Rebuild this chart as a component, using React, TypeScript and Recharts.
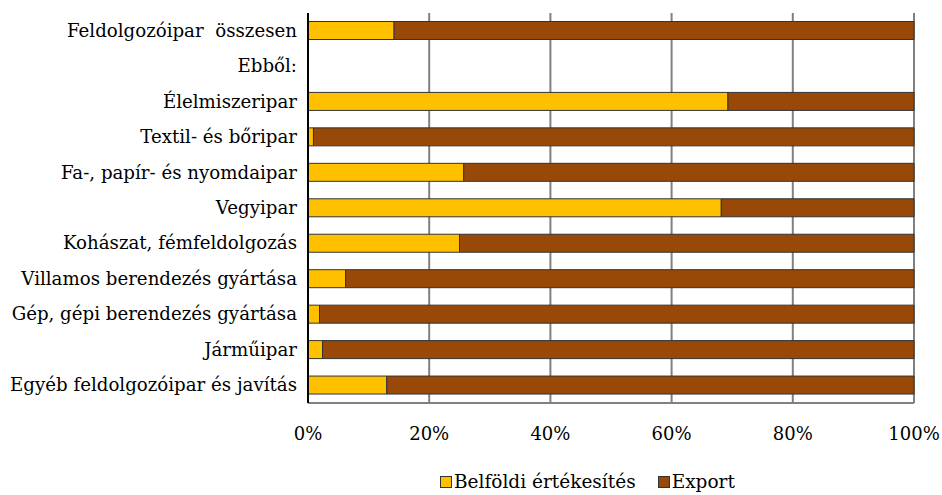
import { Bar, BarChart, CartesianGrid, Legend, XAxis, YAxis } from 'recharts';

const categories = [
  'Feldolgozóipar  összesen',
  'Ebből:',
  'Élelmiszeripar',
  'Textil- és bőripar',
  'Fa-, papír- és nyomdaipar',
  'Vegyipar',
  'Kohászat, fémfeldolgozás',
  'Villamos berendezés gyártása',
  'Gép, gépi berendezés gyártása',
  'Járműipar',
  'Egyéb feldolgozóipar és javítás',
];

const belfoldi = [14.2, null, 69.3, 0.9, 25.7, 68.2, 25.0, 6.2, 1.9, 2.4, 13.0];
const exportShare = [85.8, null, 30.7, 99.1, 74.3, 31.8, 75.0, 93.8, 98.1, 97.6, 87.0];

const xTicks = [0, 20, 40, 60, 80, 100];

const data = categories.map((name, i) => ({ name, belfoldi: belfoldi[i], export: exportShare[i] }));

const font = "'DejaVu Serif', serif";
const yellow = '#FFC000';
const brown = '#984807';

function YTick({ x, y, payload }: any) {
  return (
    <text x={x - 3} y={y} dy={6} textAnchor="end" fill="#000" style={{ whiteSpace: 'pre', fontFamily: font, fontSize: 18.2 }}>
      {payload.value}
    </text>
  );
}

function XTick({ x, y, payload }: any) {
  return (
    <text x={x} y={y} dy={35} textAnchor="middle" fill="#000" style={{ fontFamily: font, fontSize: 18 }}>
      {payload.value}%
    </text>
  );
}

function LegendContent() {
  const items = [
    { label: 'Belföldi értékesítés', color: yellow },
    { label: 'Export', color: brown },
  ];
  return (
    <div style={{ display: 'flex', justifyContent: 'flex-start', paddingLeft: 440, gap: 22, fontFamily: font, fontSize: 18.5, lineHeight: '22px' }}>
      {items.map((item) => (
        <span key={item.label} style={{ display: 'flex', alignItems: 'center' }}>
          <span style={{ width: 10, height: 10, background: item.color, border: '1px solid #333', marginRight: 2 }} />
          {item.label}
        </span>
      ))}
    </div>
  );
}

export default function App() {
  return (
    <div style={{ position: 'absolute', left: 0, top: 0, background: '#fff' }}>
      <BarChart
        width={942}
        height={495}
        data={data}
        layout="vertical"
        margin={{ top: 13, right: 28, bottom: 0, left: 0 }}
        barCategoryGap="24%"
      >
        <CartesianGrid horizontal={false} stroke="#808080" strokeWidth={2} />
        <XAxis
          type="number"
          domain={[0, 100]}
          ticks={xTicks}
          tick={<XTick />}
          tickLine={false}
          tickSize={0}
          axisLine={{ stroke: '#808080', strokeWidth: 2 }}
          height={68}
          interval={0}
        />
        <XAxis
          xAxisId="top"
          orientation="top"
          type="number"
          domain={[0, 100]}
          tick={false}
          tickLine={false}
          axisLine={{ stroke: '#000', strokeWidth: 2 }}
          height={0}
        />
        <YAxis
          type="category"
          dataKey="name"
          width={308}
          tick={<YTick />}
          tickLine={false}
          axisLine={{ stroke: '#000', strokeWidth: 2 }}
          interval={0}
        />
        <YAxis
          yAxisId="right"
          orientation="right"
          type="category"
          dataKey="name"
          width={0}
          tick={false}
          tickLine={false}
          axisLine={{ stroke: '#000', strokeWidth: 2 }}
        />
        <Legend verticalAlign="bottom" height={24} content={<LegendContent />} />
        <Bar dataKey="belfoldi" name="Belföldi értékesítés" stackId="a" fill={yellow} stroke="#333" strokeWidth={1} isAnimationActive={false} />
        <Bar dataKey="export" name="Export" stackId="a" fill={brown} stroke="#333" strokeWidth={1} isAnimationActive={false} />
      </BarChart>
    </div>
  );
}
